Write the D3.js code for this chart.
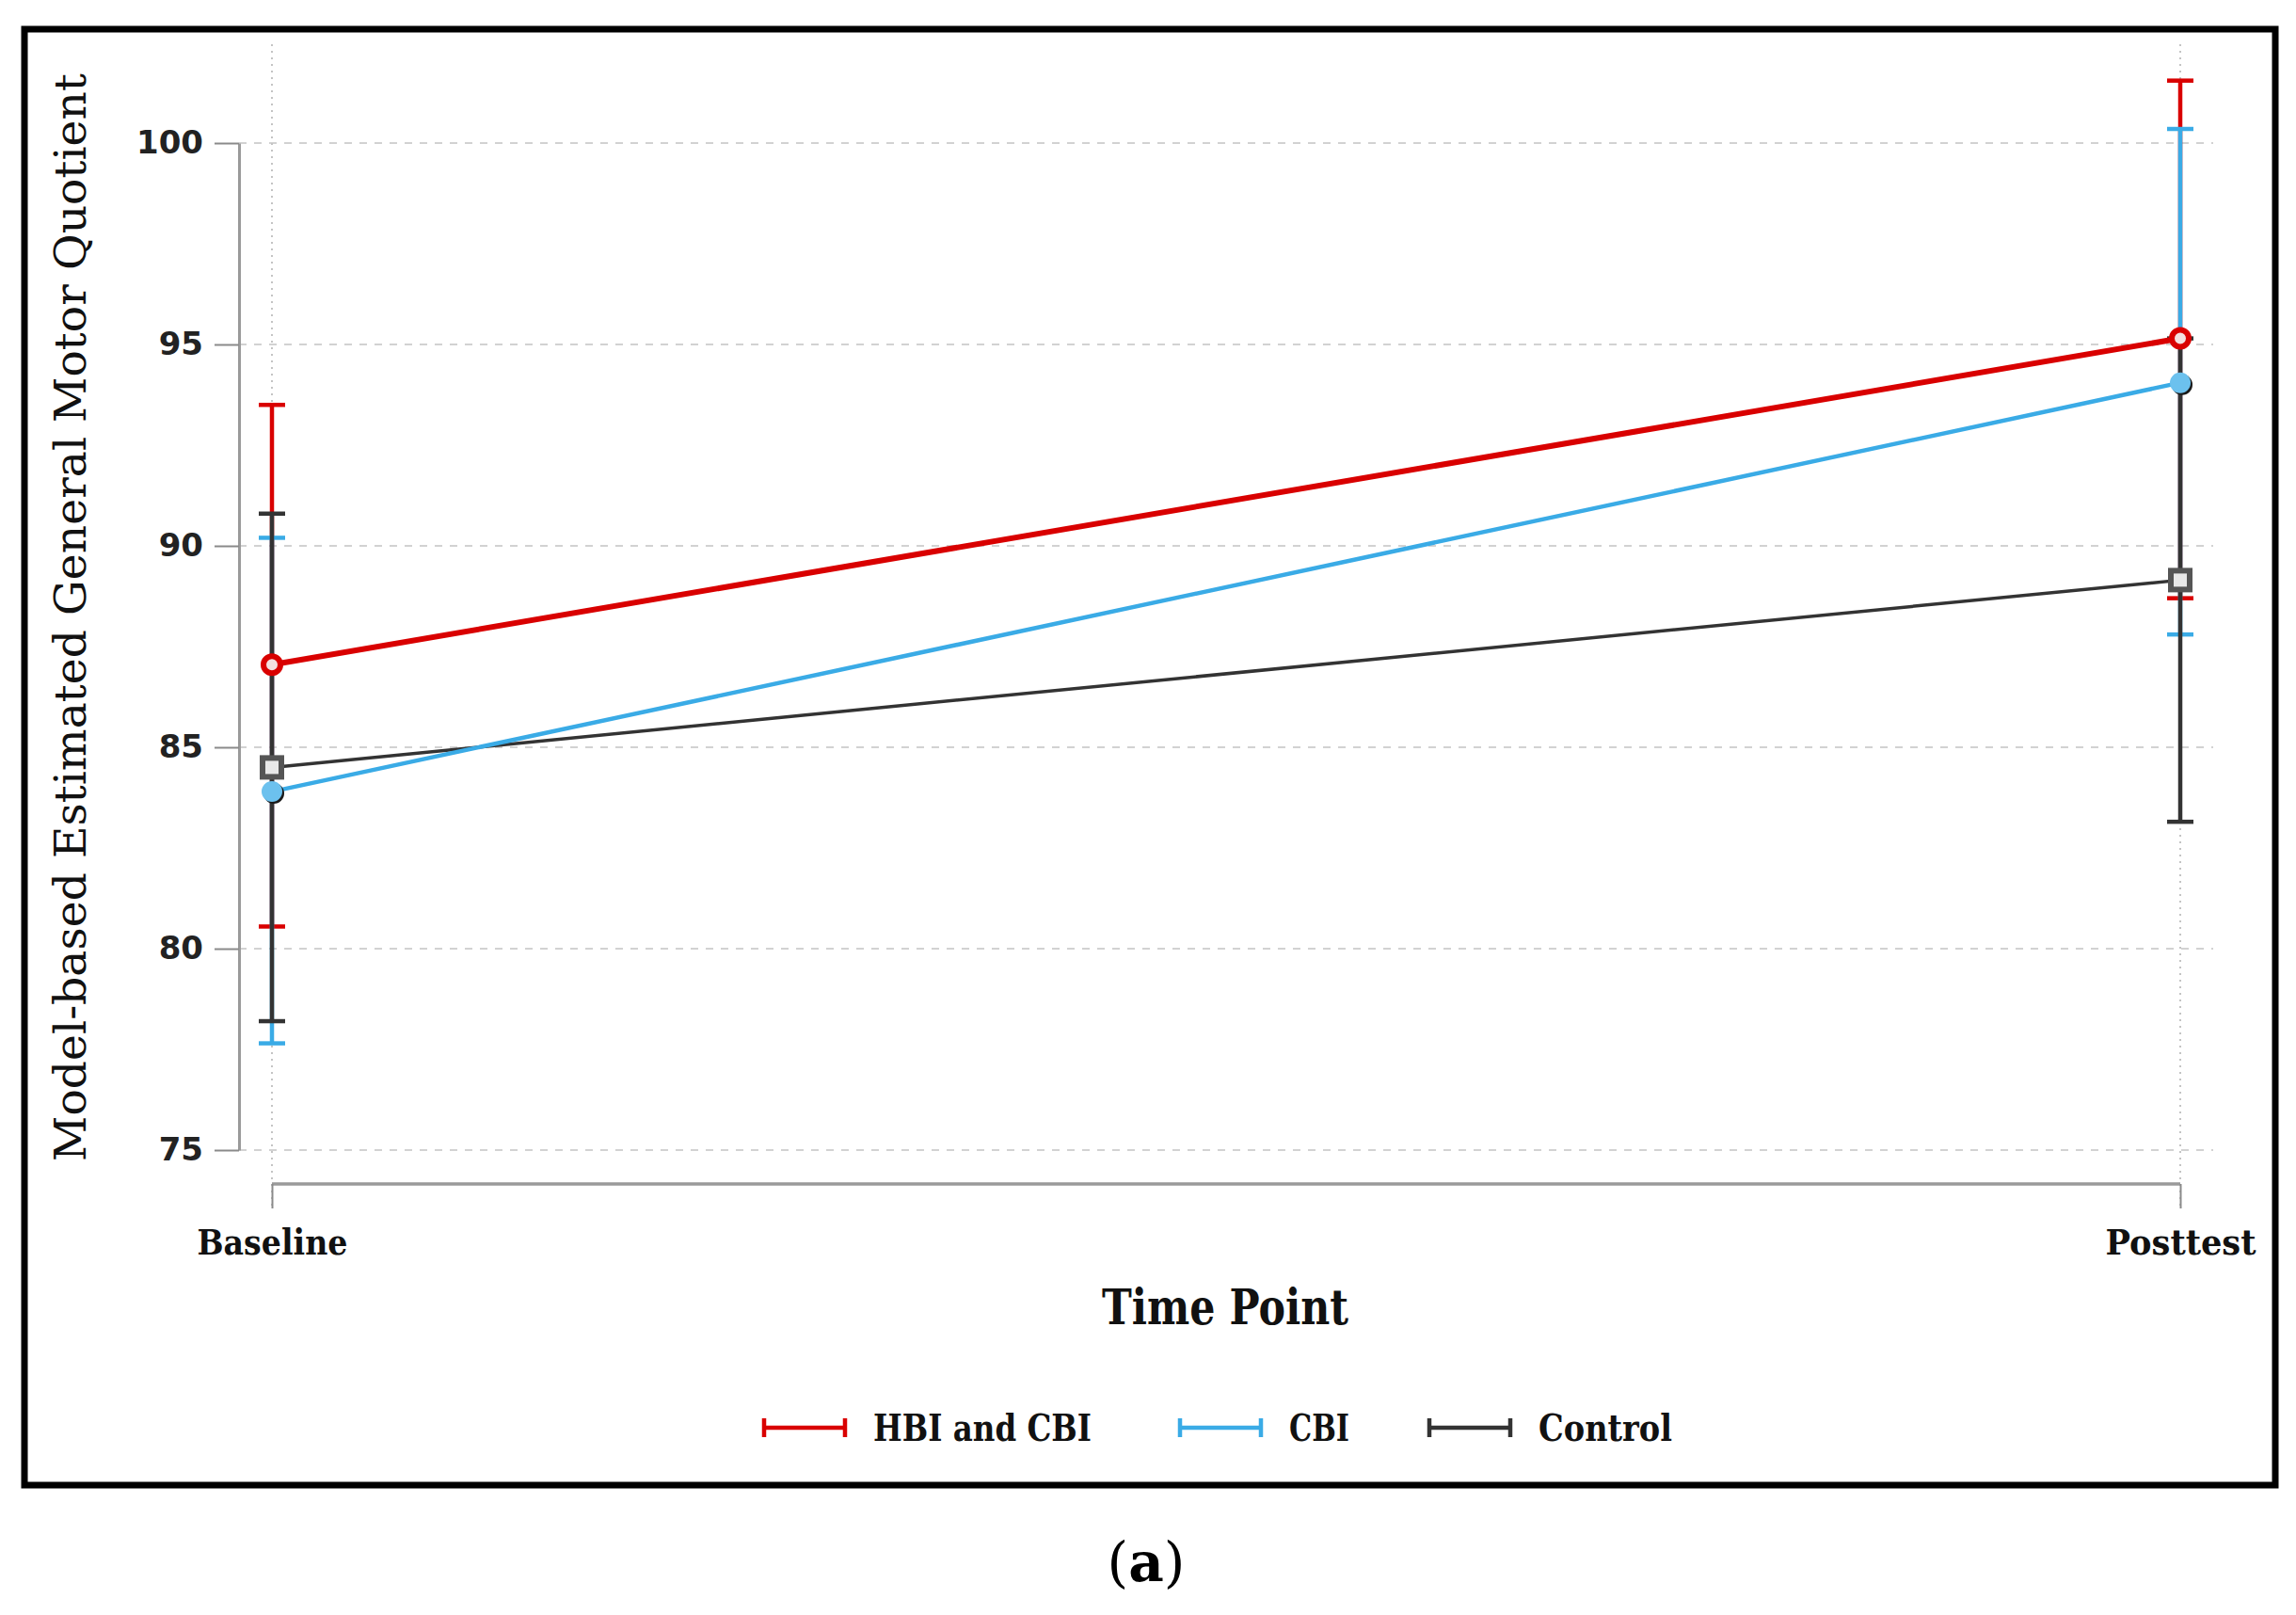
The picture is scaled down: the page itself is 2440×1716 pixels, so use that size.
<!DOCTYPE html>
<html><head><meta charset="utf-8">
<script src="https://cdnjs.cloudflare.com/ajax/libs/d3/7.8.5/d3.min.js"></script>
<style>html,body{margin:0;padding:0;background:#fff;}svg{display:block;}</style>
</head><body>
<script>
// ---- data ----
const timePoints = ["Baseline", "Posttest"];
const groups = ["HBI and CBI", "CBI", "Control"];
const groupColors = ["#d90000", "#3aabe6", "#333333"];
const meanHBI = [87.05, 95.15];
const lowHBI = [80.55, 88.70];
const highHBI = [93.50, 101.55];
const meanCBI = [83.90, 94.05];
const lowCBI = [77.65, 87.80];
const highCBI = [90.20, 100.35];
const meanControl = [84.50, 89.15];
const lowControl = [78.20, 83.15];
const highControl = [90.80, 95.15];
const yTicks = [75, 80, 85, 90, 95, 100];

const series = [
  {name: groups[0], color: groupColors[0], mean: meanHBI, low: lowHBI, high: highHBI, marker: "ring", lw: 6},
  {name: groups[1], color: groupColors[1], mean: meanCBI, low: lowCBI, high: highCBI, marker: "dot", lw: 4.5},
  {name: groups[2], color: groupColors[2], mean: meanControl, low: lowControl, high: highControl, marker: "square", lw: 3.5}
];

const W = 2440, H = 1716;
const svg = d3.select("body").append("svg").attr("width", W).attr("height", H);
svg.append("rect").attr("width", W).attr("height", H).attr("fill", "#fff");

const x = d3.scalePoint().domain(timePoints).range([289, 2317]);
const y = d3.scaleLinear().domain([75, 100]).range([1222, 152]);

const serif = "'DejaVu Serif', 'Liberation Serif', serif";

// frame
svg.append("rect").attr("x", 26).attr("y", 31).attr("width", 2392).attr("height", 1547)
  .attr("fill", "none").attr("stroke", "#000").attr("stroke-width", 7);

// horizontal grid
svg.append("g").selectAll("line").data(yTicks).join("line")
  .attr("x1", 254).attr("x2", 2352)
  .attr("y1", d => y(d)).attr("y2", d => y(d))
  .attr("stroke", "#c4c4c4").attr("stroke-width", 1.6).attr("stroke-dasharray", "8,8");

// vertical grid (dotted)
svg.append("g").selectAll("line").data(timePoints).join("line")
  .attr("x1", d => x(d)).attr("x2", d => x(d))
  .attr("y1", 47).attr("y2", 1285)
  .attr("stroke", "#c4c4c4").attr("stroke-width", 2).attr("stroke-dasharray", "2,5");

// y axis
const yAxis = d3.axisLeft(y).tickValues(yTicks).tickSize(26).tickPadding(12).tickSizeOuter(0);
const gy = svg.append("g").attr("transform", "translate(254,0)").call(yAxis);
gy.select(".domain").attr("stroke", "#9a9a9a").attr("stroke-width", 3);
gy.selectAll(".tick line").attr("stroke", "#8a8a8a").attr("stroke-width", 2);
gy.selectAll(".tick text").attr("font-family", "'DejaVu Sans', sans-serif").attr("font-weight", "bold")
  .attr("font-size", 34).attr("fill", "#222");

// x axis
const xAxis = d3.axisBottom(x).tickSize(26).tickPadding(22).tickSizeOuter(0);
const gx = svg.append("g").attr("transform", "translate(0,1258)").call(xAxis);
gx.select(".domain").attr("stroke", "#9a9a9a").attr("stroke-width", 3.5).attr("d", `M${x(timePoints[0])},0H${x(timePoints[1])}`);
gx.selectAll(".tick line").attr("stroke", "#8a8a8a").attr("stroke-width", 2);
gx.selectAll(".tick text").attr("font-family", serif).attr("font-weight", "bold")
  .attr("font-size", 38).attr("fill", "#111")
  .attr("textLength", 160).attr("lengthAdjust", "spacingAndGlyphs");

// axis titles
svg.append("text").attr("x", 1302).attr("y", 1407).attr("text-anchor", "middle")
  .attr("font-family", serif).attr("font-weight", "bold").attr("font-size", 52).attr("fill", "#111")
  .attr("textLength", 262).attr("lengthAdjust", "spacingAndGlyphs")
  .text("Time Point");
svg.append("text").attr("transform", "translate(91,656) rotate(-90)").attr("text-anchor", "middle")
  .attr("font-family", serif).attr("font-size", 46).attr("fill", "#111")
  .attr("textLength", 1156).attr("lengthAdjust", "spacingAndGlyphs")
  .text("Model-based Estimated General Motor Quotient");

// error bars (red, cyan, black)
const cap = 14;
series.forEach(s => {
  const g = svg.append("g");
  timePoints.forEach((t, i) => {
    const cx = x(t);
    g.append("line").attr("x1", cx).attr("x2", cx).attr("y1", y(s.low[i])).attr("y2", y(s.high[i]))
      .attr("stroke", s.color).attr("stroke-width", 4.5);
    [s.low[i], s.high[i]].forEach(v => {
      g.append("line").attr("x1", cx - cap).attr("x2", cx + cap).attr("y1", y(v)).attr("y2", y(v))
        .attr("stroke", s.color).attr("stroke-width", 4.5);
    });
  });
});

// lines
const line = d3.line().x((d, i) => x(timePoints[i])).y(d => y(d));
[series[2], series[1], series[0]].forEach(s => {
  svg.append("path").datum(s.mean).attr("d", line).attr("fill", "none")
    .attr("stroke", s.color).attr("stroke-width", s.lw);
});

// markers
series.forEach(s => {
  timePoints.forEach((t, i) => {
    const cx = x(t), cy = y(s.mean[i]);
    if (s.marker === "ring") {
      svg.append("circle").attr("cx", cx).attr("cy", cy).attr("r", 9)
        .attr("fill", "#f3e0e0").attr("stroke", s.color).attr("stroke-width", 6);
    } else if (s.marker === "dot") {
      svg.append("circle").attr("cx", cx + 2).attr("cy", cy + 2).attr("r", 11).attr("fill", "#1a1a1a");
      svg.append("circle").attr("cx", cx).attr("cy", cy).attr("r", 11).attr("fill", "#6cc1ee");
    } else {
      svg.append("rect").attr("x", cx - 10).attr("y", cy - 10).attr("width", 20).attr("height", 20)
        .attr("fill", "#e8e8e8").attr("stroke", "#555").attr("stroke-width", 6);
    }
  });
});

// legend
const legX = [812, 1254, 1519];
const legY = 1517;
const legTextLen = [232, 64, 142];
series.forEach((s, i) => {
  const g = svg.append("g");
  g.append("line").attr("x1", legX[i]).attr("x2", legX[i] + 86).attr("y1", legY).attr("y2", legY)
    .attr("stroke", s.color).attr("stroke-width", 4.5);
  [legX[i], legX[i] + 86].forEach(xx => {
    g.append("line").attr("x1", xx).attr("x2", xx).attr("y1", legY - 10).attr("y2", legY + 10)
      .attr("stroke", s.color).attr("stroke-width", 4.5);
  });
  g.append("text").attr("x", legX[i] + 116).attr("y", legY + 14)
    .attr("font-family", serif).attr("font-weight", "bold").attr("font-size", 40).attr("fill", "#111")
    .attr("textLength", legTextLen[i]).attr("lengthAdjust", "spacingAndGlyphs")
    .text(s.name);
});

// panel label
const lab = svg.append("text").attr("x", 1218).attr("y", 1680).attr("text-anchor", "middle")
  .attr("font-family", serif).attr("font-size", 58).attr("fill", "#000");
lab.append("tspan").text("(");
lab.append("tspan").attr("font-weight", "bold").text("a");
lab.append("tspan").text(")");
</script>
</body></html>
